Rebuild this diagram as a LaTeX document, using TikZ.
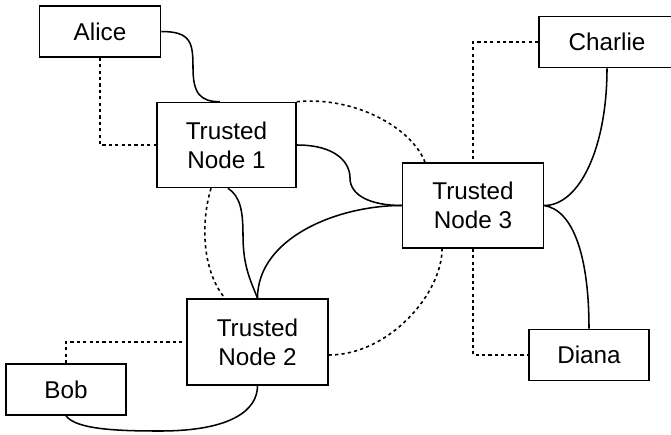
\documentclass[tikz,border=0pt]{standalone}
\usepackage{fontspec}
\setmainfont{Liberation Sans}
\begin{document}
\begin{tikzpicture}[x=0.75pt,y=-0.75pt,
  box/.style={draw=black,line width=1.15pt,fill=white,inner sep=0pt,align=center,
    font=\fontsize{18.2}{21.75}\selectfont},
  solidlink/.style={draw=black,line width=1.15pt},
  dotlink/.style={draw=black,line width=1.2pt,dash pattern=on 2.4pt off 2.4pt}]
\useasboundingbox (0,0) rectangle (671,435);
\coordinate (m1) at (193,68);
\coordinate (m4) at (350,178);
\coordinate (m6) at (243,235);
\coordinate (m10) at (160,431);
\node[box,minimum width=90.75pt,minimum height=38.25pt] (alice) at (100,31.5) {Alice};
\node[box,minimum width=104.25pt,minimum height=63.75pt] (tn1) at (226.5,145) {Trusted\\Node 1};
\node[box,minimum width=105.75pt,minimum height=64.5pt] (tn2) at (257.5,342) {Trusted\\Node 2};
\node[box,minimum width=105.75pt,minimum height=63.75pt] (tn3) at (473,205.5) {Trusted\\Node 3};
\node[box,minimum width=90pt,minimum height=38.25pt] (bob) at (66,389.5) {Bob};
\node[box,minimum width=90pt,minimum height=38.25pt] (diana) at (589,355) {Diana};
\node[box,minimum width=102pt,minimum height=38.25pt] (charlie) at (607,42) {Charlie};
% Alice
\draw[solidlink] (alice.east) .. controls +(30,0) and +(0,-25) .. (m1)
  .. controls +(0,25) and +(-20,0) .. ([xshift=-4.9pt]tn1.north);
\draw[dotlink] (alice.south) |- (tn1.west);
% TN1 - TN3
\draw[dotlink] (tn1.north east) .. controls (355,96) and (412,128) .. ([xshift=-36pt]tn3.north);
\draw[solidlink] (tn1.east) .. controls +(40,0) and +(0,-15) .. (m4)
  .. controls +(0,18) and +(-30,0) .. (tn3.west);
% TN1 - TN2
\draw[dotlink] ([xshift=-11.6pt]tn1.south) .. controls (200,225) and (203,272) .. ([xshift=-24.4pt]tn2.north);
\draw[solidlink] ([xshift=1.1pt]tn1.south) .. controls +(12,8) and +(0,-25) .. (m6)
  .. controls +(0,30) and +(-8,-20) .. (tn2.north);
% TN2 - TN3
\draw[solidlink] (tn2.north) .. controls +(0,-60) and +(-65,0) .. (tn3.west);
\draw[dotlink] ([yshift=-9.75pt]tn2.east) .. controls +(60,0) and +(0,45) .. ([xshift=-23.2pt]tn3.south);
% Bob
\draw[dotlink] (bob.north) |- (tn2.west);
\draw[solidlink] (bob.south) .. controls +(10,14) and +(-40,0) .. (m10)
  .. controls +(70,0) and +(0,25) .. (tn2.south);
% Charlie
\draw[dotlink] (charlie.west) -| (tn3.north);
\draw[solidlink] (charlie.south) .. controls +(0,80) and +(35,0) .. (tn3.east);
% Diana
\draw[solidlink] (tn3.east) .. controls +(30,5) and +(0,-70) .. (diana.north);
\draw[dotlink] (tn3.south) |- (diana.west);
\end{tikzpicture}
\end{document}
